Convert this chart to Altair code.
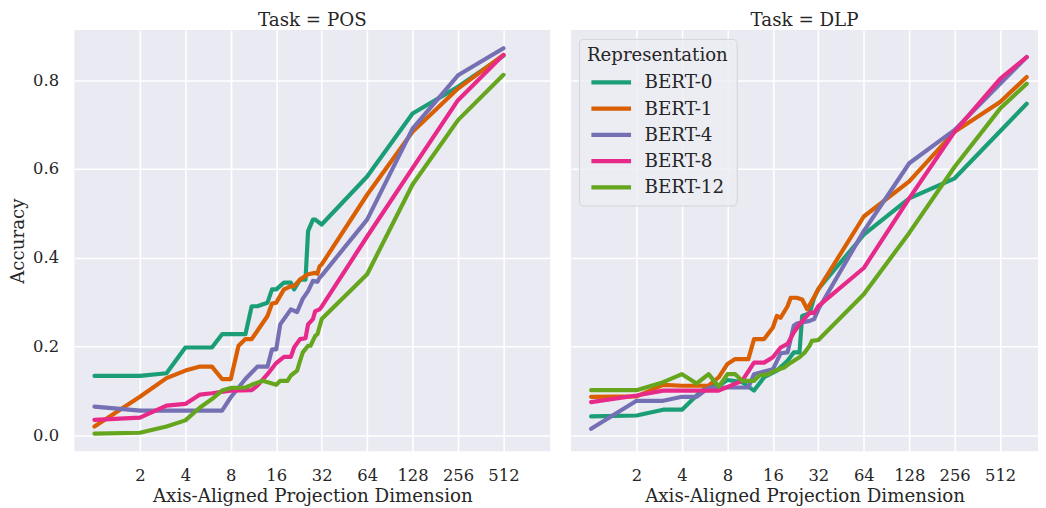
import math
import altair as alt
import pandas as pd

REPS = ["BERT-0", "BERT-1", "BERT-4", "BERT-8", "BERT-12"]
COLORS = ["#1b9e77", "#d95f02", "#7570b3", "#e7298a", "#66a61e"]
X_TICKS = [2, 4, 8, 16, 32, 64, 128, 256, 512]
Y_TICKS = [0.0, 0.2, 0.4, 0.6, 0.8]

# ---- Task = POS ----
pos_b0_dim = [1, 2, 3, 4, 6, 7, 10, 11, 12, 14, 15, 16, 18, 20, 21, 23, 25, 26, 28, 29, 32, 64, 128, 256, 512]
pos_b0_acc = [0.134, 0.134, 0.140, 0.198, 0.198, 0.228, 0.228, 0.291, 0.291, 0.299, 0.329, 0.329, 0.344, 0.344,
              0.329, 0.351, 0.351, 0.460, 0.486, 0.486, 0.475, 0.583, 0.725, 0.785, 0.855]
pos_b1_dim = [1, 2, 3, 4, 5, 6, 7, 8, 9, 10, 11, 14, 15, 16, 18, 20, 21, 23, 26, 29, 30, 31, 32, 64, 128, 256, 512]
pos_b1_acc = [0.020, 0.087, 0.129, 0.146, 0.155, 0.155, 0.127, 0.127, 0.202, 0.217, 0.217, 0.269, 0.297, 0.299,
              0.329, 0.336, 0.336, 0.351, 0.363, 0.366, 0.364, 0.381, 0.385, 0.542, 0.684, 0.781, 0.857]
pos_b4_dim = [1, 2, 3, 4, 5, 6, 7, 8, 10, 12, 14, 15, 16, 17, 18, 20, 22, 24, 26, 28, 30, 31, 32, 64, 128, 256, 512]
pos_b4_acc = [0.065, 0.056, 0.056, 0.056, 0.056, 0.056, 0.056, 0.086, 0.127, 0.155, 0.155, 0.194, 0.194, 0.250,
              0.262, 0.284, 0.278, 0.308, 0.325, 0.348, 0.346, 0.355, 0.360, 0.486, 0.691, 0.811, 0.872]
pos_b8_dim = [1, 2, 3, 4, 5, 6, 8, 11, 12, 14, 16, 18, 20, 21, 23, 25, 26, 28, 29, 31, 32, 64, 128, 256, 512]
pos_b8_acc = [0.035, 0.040, 0.067, 0.071, 0.092, 0.095, 0.101, 0.102, 0.112, 0.138, 0.163, 0.177, 0.177, 0.198,
              0.217, 0.219, 0.250, 0.262, 0.280, 0.284, 0.290, 0.448, 0.602, 0.755, 0.857]
pos_b12_dim = [1, 2, 3, 4, 5, 6, 7, 8, 10, 11, 13, 16, 17, 19, 20, 22, 23, 24, 26, 27, 29, 30, 32, 64, 128, 256, 512]
pos_b12_acc = [0.004, 0.006, 0.020, 0.034, 0.063, 0.082, 0.101, 0.107, 0.108, 0.114, 0.123, 0.114, 0.123, 0.123,
               0.135, 0.146, 0.168, 0.187, 0.202, 0.202, 0.224, 0.228, 0.262, 0.363, 0.565, 0.710, 0.812]

# ---- Task = DLP ----
dlp_b0_dim = [1, 2, 3, 4, 5, 6, 7, 8, 10, 11, 12, 14, 17, 20, 22, 23, 24, 25, 28, 30, 32, 64, 128, 256, 512, 768]
dlp_b0_acc = [0.043, 0.045, 0.058, 0.058, 0.090, 0.112, 0.112, 0.125, 0.120, 0.110, 0.101, 0.131, 0.146, 0.168,
              0.187, 0.187, 0.187, 0.269, 0.275, 0.310, 0.330, 0.452, 0.534, 0.579, 0.685, 0.747]
dlp_b1_dim = [1, 2, 3, 4, 5, 6, 7, 8, 9, 11, 12, 14, 16, 17, 18, 20, 21, 23, 25, 27, 29, 32, 64, 128, 256, 512, 768]
dlp_b1_acc = [0.087, 0.088, 0.114, 0.112, 0.112, 0.112, 0.131, 0.161, 0.172, 0.172, 0.217, 0.217, 0.243, 0.269,
              0.265, 0.291, 0.310, 0.310, 0.306, 0.284, 0.303, 0.329, 0.493, 0.572, 0.684, 0.751, 0.807]
dlp_b4_dim = [1, 2, 3, 4, 5, 6, 8, 11, 12, 14, 16, 18, 20, 22, 23, 28, 30, 32, 64, 128, 256, 512, 768]
dlp_b4_acc = [0.015, 0.078, 0.078, 0.087, 0.087, 0.107, 0.108, 0.108, 0.138, 0.144, 0.149, 0.185, 0.187, 0.247,
              0.252, 0.258, 0.262, 0.284, 0.460, 0.613, 0.688, 0.792, 0.852]
dlp_b8_dim = [1, 2, 3, 4, 7, 10, 12, 14, 16, 18, 20, 22, 24, 28, 30, 32, 64, 128, 256, 512, 768]
dlp_b8_acc = [0.075, 0.090, 0.101, 0.101, 0.101, 0.123, 0.164, 0.164, 0.176, 0.198, 0.206, 0.232, 0.250, 0.276,
              0.276, 0.291, 0.377, 0.534, 0.684, 0.803, 0.852]
dlp_b12_dim = [1, 2, 3, 4, 5, 6, 7, 8, 9, 10, 12, 13, 15, 16, 19, 21, 22, 24, 26, 28, 29, 32, 64, 128, 256, 512, 768]
dlp_b12_acc = [0.102, 0.102, 0.120, 0.138, 0.117, 0.138, 0.110, 0.138, 0.138, 0.123, 0.123, 0.135, 0.138, 0.144,
               0.153, 0.164, 0.168, 0.176, 0.187, 0.202, 0.213, 0.215, 0.318, 0.456, 0.605, 0.736, 0.792]

POS = {"BERT-0": (pos_b0_dim, pos_b0_acc), "BERT-1": (pos_b1_dim, pos_b1_acc),
       "BERT-4": (pos_b4_dim, pos_b4_acc), "BERT-8": (pos_b8_dim, pos_b8_acc),
       "BERT-12": (pos_b12_dim, pos_b12_acc)}
DLP = {"BERT-0": (dlp_b0_dim, dlp_b0_acc), "BERT-1": (dlp_b1_dim, dlp_b1_acc),
       "BERT-4": (dlp_b4_dim, dlp_b4_acc), "BERT-8": (dlp_b8_dim, dlp_b8_acc),
       "BERT-12": (dlp_b12_dim, dlp_b12_acc)}


def to_frame(series):
    rows = []
    for rep in REPS:
        dims, accs = series[rep]
        for d, a in zip(dims, accs):
            rows.append({"Representation": rep, "dim": d, "acc": a, "k": REPS.index(rep)})
    return pd.DataFrame(rows)


pos_df = to_frame(POS)
dlp_df = to_frame(DLP)

Y_DOM = [-0.0357, 0.913]
X_LO = 0.7365
PX_PER_OCT = 45.84


def panel(df, title, width, show_y, show_legend):
    hi = 2 ** (math.log2(X_LO) + width / PX_PER_OCT)
    color = alt.Color(
        "Representation:N",
        scale=alt.Scale(domain=REPS, range=COLORS),
        sort=REPS,
        legend=alt.Legend(title="Representation") if show_legend else None,
    )
    yaxis = alt.Axis(values=Y_TICKS, format=".1f", title="Accuracy") if show_y else \
        alt.Axis(values=Y_TICKS, labels=False, title=None)
    return alt.Chart(df).mark_line(strokeWidth=4.2, strokeCap="round", strokeJoin="round").encode(
        x=alt.X("dim:Q",
                scale=alt.Scale(type="log", base=2, domain=[X_LO, hi], nice=False),
                axis=alt.Axis(values=X_TICKS, format="d", title="Axis-Aligned Projection Dimension")),
        y=alt.Y("acc:Q", scale=alt.Scale(domain=Y_DOM, nice=False, zero=False), axis=yaxis),
        color=color,
        detail="k:N",
        order=alt.Order("dim:Q"),
    ).properties(width=width, height=425, title=title)


left = panel(pos_df, "Task = POS", 480, True, False)
right = panel(dlp_df, "Task = DLP", 471, False, True)

chart = alt.hconcat(left, right, spacing=21).resolve_legend(color="independent").properties(
    padding={"left": 0, "top": 0, "right": 0, "bottom": 0}
).configure(
    font="DejaVu Serif"
).configure_view(
    fill="#EAEAF2", stroke=None
).configure_axis(
    grid=True, gridColor="white", gridWidth=1.6, domain=False, ticks=False,
    labelFontSize=16.5, labelColor="#262626", labelPadding=16,
    titleFontSize=18.4, titleFontWeight="normal", titleColor="#262626",
).configure_axisX(
    titlePadding=3,
).configure_axisY(
    titlePadding=5.5,
).configure_title(
    fontSize=18.4, fontWeight="normal", color="#262626", offset=1, anchor="middle",
).configure_legend(
    orient="none", legendX=8, legendY=9,
    fillColor="rgba(236,236,243,0.85)", strokeColor="#d2d2d8", cornerRadius=4, padding=8,
    titleFontSize=18.3, titleFontWeight="normal", titleColor="#262626",
    labelFontSize=18.5, labelColor="#262626",
    symbolType="M-0.8,0H3.2", symbolSize=400, symbolStrokeWidth=4.2,
    labelOffset=33, rowPadding=4.5, titlePadding=5,
)

chart.save("out.html", embed_options={"renderer": "svg", "actions": False})
